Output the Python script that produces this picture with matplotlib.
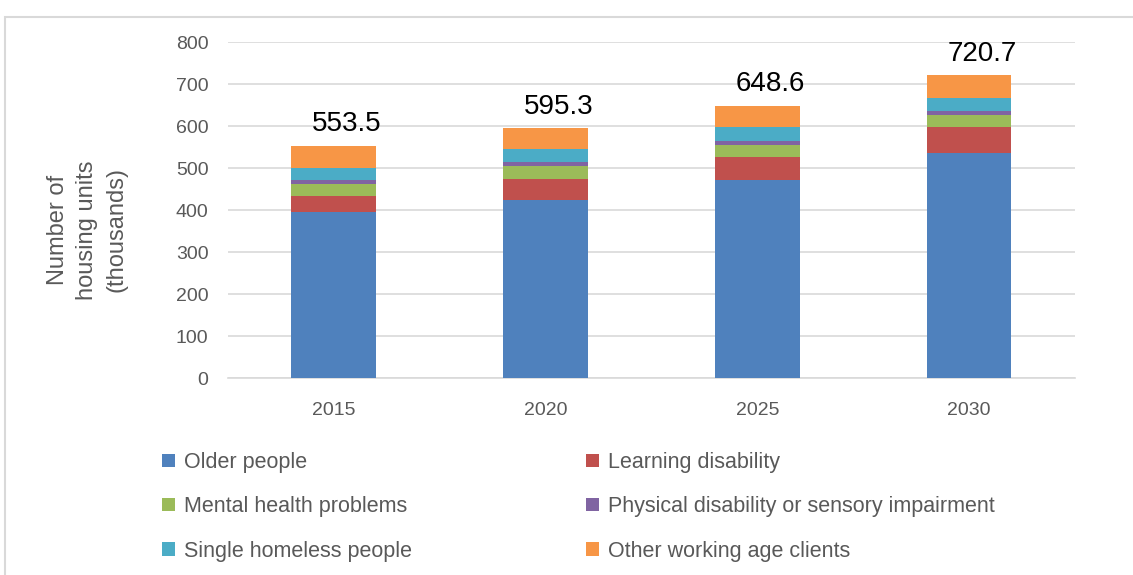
import numpy as np
import matplotlib.pyplot as plt
from matplotlib.patches import Rectangle

plt.rcParams['font.family'] = ['Liberation Sans', 'DejaVu Sans']

years = ['2015', '2020', '2025', '2030']
older = [396, 425, 471, 535]
learning = [38, 49, 55, 62]
mental = [28, 31, 30, 30]
physical = [9, 10, 9, 9]
homeless = [29, 30, 32, 31]
other = [53.5, 50.3, 51.6, 53.7]
totals = [553.5, 595.3, 648.6, 720.7]

series = [
    ('Older people', older, '#4F81BD'),
    ('Learning disability', learning, '#C0504D'),
    ('Mental health problems', mental, '#9BBB59'),
    ('Physical disability or sensory impairment', physical, '#8064A2'),
    ('Single homeless people', homeless, '#4BACC6'),
    ('Other working age clients', other, '#F79646'),
]

fig = plt.figure(figsize=(11.33, 5.75), dpi=100)
ax = fig.add_axes([0.2012, 0.3426, 0.7476, 0.5843])

x = np.arange(len(years))
bottom = np.zeros(len(years))
handles = {}
for name, vals, col in series:
    b = ax.bar(x, vals, 0.4, bottom=bottom, color=col, label=name, zorder=3)
    handles[name] = b
    bottom += np.array(vals)

# totals above bars
for i, t in enumerate(totals):
    ax.annotate(f'{t:.1f}', (x[i] + 0.06, t), xytext=(0, 6), textcoords='offset points',
                ha='center', va='bottom', fontsize=20, color='black')

ax.set_xlim(-0.5, 3.5)
ax.set_ylim(0, 800)
ax.set_yticks(range(0, 801, 100))
ax.set_xticks(x)
ax.set_xticklabels(years)
ax.grid(axis='y', color='#D9D9D9', linewidth=1.2, zorder=0)
for s in ['left', 'right', 'top']:
    ax.spines[s].set_visible(False)
ax.spines['bottom'].set_color('#D9D9D9')
ax.spines['bottom'].set_linewidth(1.2)
ax.tick_params(axis='both', length=0, labelsize=14, colors='#595959')
ax.tick_params(axis='y', pad=14)
ax.tick_params(axis='x', pad=17)

fig.text(0.077, 0.60, 'Number of\nhousing units\n(thousands)', rotation=90,
         ha='center', va='center', fontsize=17, color='#595959', linespacing=1.45)

col1 = ['Older people', 'Mental health problems', 'Single homeless people']
col2 = ['Learning disability', 'Physical disability or sensory impairment',
        'Other working age clients']
leg_kw = dict(loc='upper left', frameon=False, fontsize=15.5, borderpad=0,
              borderaxespad=0, handlelength=0.6, handleheight=0.6,
              handletextpad=0.4, labelspacing=1.08, labelcolor='#595959')
leg1 = fig.legend([handles[n] for n in col1], col1,
                  bbox_to_anchor=(162 / 1133, 1 - 452 / 575), **leg_kw)
leg2 = fig.legend([handles[n] for n in col2], col2,
                  bbox_to_anchor=(586 / 1133, 1 - 452 / 575), **leg_kw)

fig.patches.append(Rectangle((5 / 1133, -0.1), 1.2, 1 - 17 / 575 + 0.1,
                             transform=fig.transFigure, fill=False,
                             edgecolor='#D9D9D9', linewidth=1.5))

fig.savefig('out.png', dpi=100)
